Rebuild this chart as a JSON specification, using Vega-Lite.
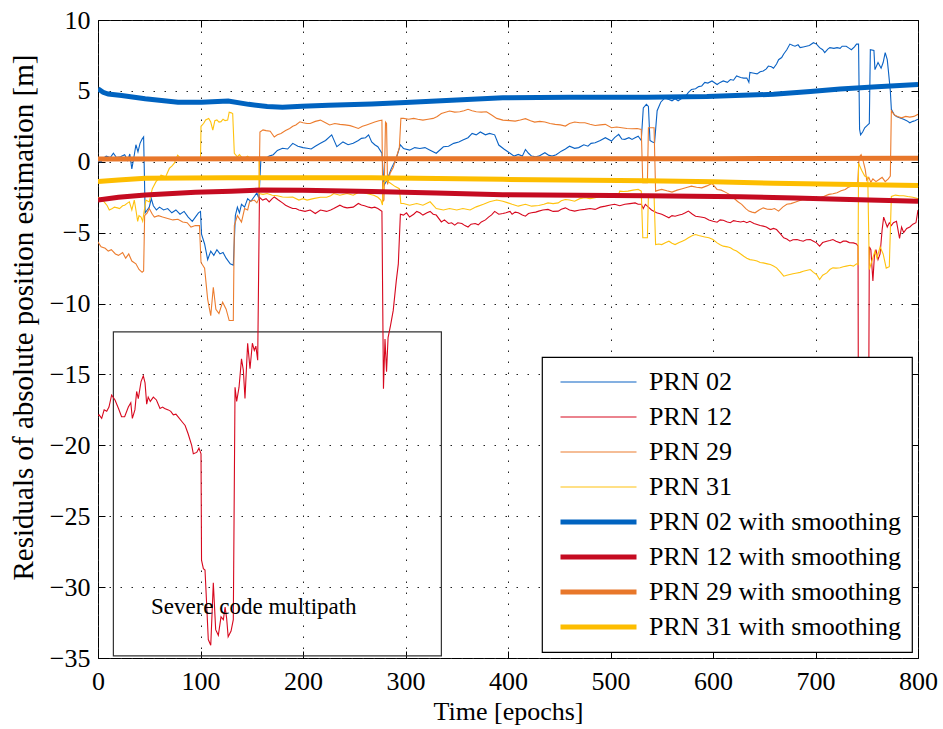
{
"$schema":"https://vega.github.io/schema/vega-lite/v6.json",
"width":820,"height":638,
"autosize":{"type":"none"},
"padding":{"left":98,"top":20,"right":25,"bottom":71},
"config":{"font":"Liberation Serif","view":{"stroke":"black","strokeWidth":1},
"style":{"guide-label":{"font":"Liberation Serif","fontSize":26,"fill":"black"},"guide-title":{"font":"Liberation Serif","fontSize":26,"fill":"black","fontWeight":"normal"}},
"axis":{"labelFont":"Liberation Serif","titleFont":"Liberation Serif","labelFontSize":26,"titleFontSize":26,"labelColor":"black","titleColor":"black","titleFontWeight":"normal","domainColor":"black","tickColor":"black","gridColor":"#222","gridDash":[1.5,9.5],"gridOpacity":1,"gridWidth":1,"labelFlush":false,"labelOverlap":false},
"legend":{"orient":"none","legendX":444,"legendY":337,"fillColor":"white","strokeColor":"black","strokeWidth":1.2,"padding":10,"labelFont":"Liberation Serif","labelFontSize":26,"labelColor":"black","symbolType":"stroke","symbolSize":5776,"clipHeight":30,"rowPadding":5,"labelOffset":10,"symbolOffset":6,"offset":0,"labelLimit":400}},
"resolve":{"axis":{"x":"independent","y":"independent"}},
"data":{"values":[
{"s":"PRN 02","t":0,"v":0.05},{"s":"PRN 02","t":3,"v":0.0},{"s":"PRN 02","t":6,"v":0.3},{"s":"PRN 02","t":8,"v":0.4},{"s":"PRN 02","t":12,"v":0.3},{"s":"PRN 02","t":15,"v":0.6},{"s":"PRN 02","t":18,"v":0.3},{"s":"PRN 02","t":22,"v":0.35},{"s":"PRN 02","t":26,"v":0.5},{"s":"PRN 02","t":29,"v":0.1},{"s":"PRN 02","t":31,"v":0.55},{"s":"PRN 02","t":33,"v":-0.5},{"s":"PRN 02","t":35,"v":0.3},{"s":"PRN 02","t":37,"v":1.2},{"s":"PRN 02","t":39,"v":0.7},{"s":"PRN 02","t":41,"v":1.3},{"s":"PRN 02","t":43,"v":1.6},{"s":"PRN 02","t":44.5,"v":1.75},{"s":"PRN 02","t":46,"v":-3.6},{"s":"PRN 02","t":48,"v":-3.4},{"s":"PRN 02","t":50,"v":-3.2},{"s":"PRN 02","t":52,"v":-2.6},{"s":"PRN 02","t":54,"v":-3.1},{"s":"PRN 02","t":57,"v":-3.4},{"s":"PRN 02","t":60,"v":-3.2},{"s":"PRN 02","t":64,"v":-3.4},{"s":"PRN 02","t":68,"v":-3.3},{"s":"PRN 02","t":72,"v":-3.6},{"s":"PRN 02","t":76,"v":-3.4},{"s":"PRN 02","t":80,"v":-3.7},{"s":"PRN 02","t":84,"v":-3.5},{"s":"PRN 02","t":88,"v":-3.9},{"s":"PRN 02","t":92,"v":-4.2},{"s":"PRN 02","t":95,"v":-3.9},{"s":"PRN 02","t":98,"v":-3.6},{"s":"PRN 02","t":100,"v":-3.5},{"s":"PRN 02","t":101,"v":-5.1},{"s":"PRN 02","t":104,"v":-5.8},{"s":"PRN 02","t":107,"v":-6.9},{"s":"PRN 02","t":110,"v":-6.3},{"s":"PRN 02","t":113,"v":-6.6},{"s":"PRN 02","t":116,"v":-6.2},{"s":"PRN 02","t":119,"v":-6.5},{"s":"PRN 02","t":122,"v":-6.4},{"s":"PRN 02","t":125,"v":-6.8},{"s":"PRN 02","t":129,"v":-7.2},{"s":"PRN 02","t":132,"v":-7.3},{"s":"PRN 02","t":134,"v":-3.8},{"s":"PRN 02","t":136,"v":-3.2},{"s":"PRN 02","t":138,"v":-3.6},{"s":"PRN 02","t":140,"v":-3.0},{"s":"PRN 02","t":143,"v":-3.2},{"s":"PRN 02","t":146,"v":-2.6},{"s":"PRN 02","t":149,"v":-2.8},{"s":"PRN 02","t":152,"v":-2.5},{"s":"PRN 02","t":155,"v":-2.2},{"s":"PRN 02","t":157,"v":-2.6},{"s":"PRN 02","t":159,"v":0.3},{"s":"PRN 02","t":163,"v":0.2},{"s":"PRN 02","t":167,"v":0.4},{"s":"PRN 02","t":171,"v":0.5},{"s":"PRN 02","t":175,"v":0.8},{"s":"PRN 02","t":180,"v":0.95},{"s":"PRN 02","t":185,"v":0.9},{"s":"PRN 02","t":190,"v":1.3},{"s":"PRN 02","t":195,"v":1.1},{"s":"PRN 02","t":200,"v":1.0},{"s":"PRN 02","t":204,"v":0.95},{"s":"PRN 02","t":208,"v":0.9},{"s":"PRN 02","t":212,"v":1.1},{"s":"PRN 02","t":217,"v":1.3},{"s":"PRN 02","t":222,"v":1.5},{"s":"PRN 02","t":228,"v":1.9},{"s":"PRN 02","t":233,"v":1.06},{"s":"PRN 02","t":239,"v":1.4},{"s":"PRN 02","t":244,"v":1.2},{"s":"PRN 02","t":249,"v":1.3},{"s":"PRN 02","t":254,"v":1.5},{"s":"PRN 02","t":257,"v":1.65},{"s":"PRN 02","t":261,"v":1.7},{"s":"PRN 02","t":264,"v":1.9},{"s":"PRN 02","t":267,"v":1.4},{"s":"PRN 02","t":270,"v":1.2},{"s":"PRN 02","t":273,"v":1.06},{"s":"PRN 02","t":277,"v":0.6},{"s":"PRN 02","t":279,"v":-1.65},{"s":"PRN 02","t":282,"v":-1.3},{"s":"PRN 02","t":286,"v":-0.5},{"s":"PRN 02","t":291,"v":0.24},{"s":"PRN 02","t":295,"v":1.2},{"s":"PRN 02","t":298,"v":0.94},{"s":"PRN 02","t":304,"v":0.82},{"s":"PRN 02","t":309,"v":1.0},{"s":"PRN 02","t":314,"v":0.94},{"s":"PRN 02","t":319,"v":1.0},{"s":"PRN 02","t":324,"v":0.82},{"s":"PRN 02","t":330,"v":0.6},{"s":"PRN 02","t":337,"v":1.06},{"s":"PRN 02","t":342,"v":1.1},{"s":"PRN 02","t":347,"v":1.3},{"s":"PRN 02","t":352,"v":1.4},{"s":"PRN 02","t":356,"v":1.53},{"s":"PRN 02","t":361,"v":1.7},{"s":"PRN 02","t":365,"v":2.0},{"s":"PRN 02","t":369,"v":1.9},{"s":"PRN 02","t":373,"v":2.1},{"s":"PRN 02","t":378,"v":1.9},{"s":"PRN 02","t":382,"v":2.0},{"s":"PRN 02","t":387,"v":1.9},{"s":"PRN 02","t":391,"v":1.18},{"s":"PRN 02","t":396,"v":0.9},{"s":"PRN 02","t":402,"v":0.6},{"s":"PRN 02","t":406,"v":0.4},{"s":"PRN 02","t":410,"v":0.52},{"s":"PRN 02","t":414,"v":0.4},{"s":"PRN 02","t":417,"v":0.87},{"s":"PRN 02","t":420,"v":0.6},{"s":"PRN 02","t":423,"v":0.4},{"s":"PRN 02","t":427,"v":0.35},{"s":"PRN 02","t":430,"v":0.4},{"s":"PRN 02","t":436,"v":0.64},{"s":"PRN 02","t":440,"v":0.45},{"s":"PRN 02","t":443,"v":0.4},{"s":"PRN 02","t":447,"v":0.5},{"s":"PRN 02","t":452,"v":0.75},{"s":"PRN 02","t":456,"v":0.9},{"s":"PRN 02","t":460,"v":1.1},{"s":"PRN 02","t":465,"v":0.95},{"s":"PRN 02","t":469,"v":1.0},{"s":"PRN 02","t":474,"v":1.2},{"s":"PRN 02","t":478,"v":1.1},{"s":"PRN 02","t":481,"v":1.3},{"s":"PRN 02","t":485,"v":1.34},{"s":"PRN 02","t":490,"v":1.5},{"s":"PRN 02","t":495,"v":1.7},{"s":"PRN 02","t":501,"v":1.46},{"s":"PRN 02","t":504,"v":1.7},{"s":"PRN 02","t":508,"v":1.93},{"s":"PRN 02","t":511,"v":1.6},{"s":"PRN 02","t":514,"v":1.58},{"s":"PRN 02","t":518,"v":1.7},{"s":"PRN 02","t":521,"v":1.58},{"s":"PRN 02","t":524,"v":1.7},{"s":"PRN 02","t":527,"v":1.8},{"s":"PRN 02","t":530,"v":1.5},{"s":"PRN 02","t":532,"v":3.8},{"s":"PRN 02","t":535,"v":4.05},{"s":"PRN 02","t":537,"v":3.9},{"s":"PRN 02","t":538.5,"v":1.5},{"s":"PRN 02","t":541,"v":1.4},{"s":"PRN 02","t":543,"v":1.34},{"s":"PRN 02","t":545.5,"v":3.6},{"s":"PRN 02","t":549,"v":4.2},{"s":"PRN 02","t":553,"v":4.5},{"s":"PRN 02","t":557,"v":4.4},{"s":"PRN 02","t":560,"v":4.3},{"s":"PRN 02","t":563,"v":4.45},{"s":"PRN 02","t":566,"v":4.3},{"s":"PRN 02","t":570,"v":4.5},{"s":"PRN 02","t":573,"v":4.6},{"s":"PRN 02","t":576,"v":4.9},{"s":"PRN 02","t":579,"v":5.1},{"s":"PRN 02","t":583,"v":5.15},{"s":"PRN 02","t":586,"v":5.3},{"s":"PRN 02","t":589,"v":5.35},{"s":"PRN 02","t":592,"v":5.6},{"s":"PRN 02","t":595,"v":5.55},{"s":"PRN 02","t":599,"v":5.7},{"s":"PRN 02","t":604,"v":5.45},{"s":"PRN 02","t":607,"v":5.6},{"s":"PRN 02","t":610,"v":5.7},{"s":"PRN 02","t":614,"v":5.6},{"s":"PRN 02","t":617,"v":5.8},{"s":"PRN 02","t":620,"v":5.75},{"s":"PRN 02","t":623,"v":6.05},{"s":"PRN 02","t":627,"v":5.95},{"s":"PRN 02","t":630,"v":5.9},{"s":"PRN 02","t":633,"v":5.9},{"s":"PRN 02","t":635,"v":5.6},{"s":"PRN 02","t":636,"v":6.3},{"s":"PRN 02","t":640,"v":6.25},{"s":"PRN 02","t":643,"v":6.2},{"s":"PRN 02","t":646,"v":6.35},{"s":"PRN 02","t":649,"v":6.4},{"s":"PRN 02","t":652,"v":6.55},{"s":"PRN 02","t":654,"v":6.75},{"s":"PRN 02","t":657,"v":6.7},{"s":"PRN 02","t":659,"v":6.6},{"s":"PRN 02","t":662,"v":6.9},{"s":"PRN 02","t":664,"v":7.2},{"s":"PRN 02","t":667,"v":7.35},{"s":"PRN 02","t":669,"v":7.6},{"s":"PRN 02","t":672,"v":7.9},{"s":"PRN 02","t":675,"v":8.3},{"s":"PRN 02","t":678,"v":8.2},{"s":"PRN 02","t":680,"v":8.15},{"s":"PRN 02","t":683,"v":8.25},{"s":"PRN 02","t":685,"v":8.05},{"s":"PRN 02","t":688,"v":8.1},{"s":"PRN 02","t":691,"v":8.15},{"s":"PRN 02","t":694,"v":8.2},{"s":"PRN 02","t":698,"v":8.4},{"s":"PRN 02","t":701,"v":8.3},{"s":"PRN 02","t":704,"v":8.05},{"s":"PRN 02","t":707,"v":7.9},{"s":"PRN 02","t":709,"v":7.7},{"s":"PRN 02","t":712,"v":7.95},{"s":"PRN 02","t":714,"v":8.05},{"s":"PRN 02","t":718,"v":8.0},{"s":"PRN 02","t":721,"v":8.05},{"s":"PRN 02","t":724,"v":8.0},{"s":"PRN 02","t":726,"v":8.15},{"s":"PRN 02","t":730,"v":8.15},{"s":"PRN 02","t":733,"v":8.0},{"s":"PRN 02","t":735,"v":7.9},{"s":"PRN 02","t":738,"v":8.1},{"s":"PRN 02","t":740,"v":8.3},{"s":"PRN 02","t":742,"v":8.3},{"s":"PRN 02","t":743,"v":2.3},{"s":"PRN 02","t":744,"v":1.9},{"s":"PRN 02","t":746,"v":2.1},{"s":"PRN 02","t":748,"v":2.4},{"s":"PRN 02","t":751,"v":2.6},{"s":"PRN 02","t":752.5,"v":2.7},{"s":"PRN 02","t":753.5,"v":7.9},{"s":"PRN 02","t":757,"v":7.85},{"s":"PRN 02","t":758,"v":6.5},{"s":"PRN 02","t":761,"v":7.0},{"s":"PRN 02","t":764,"v":6.6},{"s":"PRN 02","t":766,"v":7.0},{"s":"PRN 02","t":768,"v":7.7},{"s":"PRN 02","t":770,"v":7.2},{"s":"PRN 02","t":771,"v":6.5},{"s":"PRN 02","t":773,"v":5.0},{"s":"PRN 02","t":774,"v":3.7},{"s":"PRN 02","t":777,"v":3.3},{"s":"PRN 02","t":779,"v":3.2},{"s":"PRN 02","t":782,"v":3.1},{"s":"PRN 02","t":786,"v":3.0},{"s":"PRN 02","t":789,"v":2.9},{"s":"PRN 02","t":792,"v":2.75},{"s":"PRN 02","t":795,"v":2.85},{"s":"PRN 02","t":797,"v":2.9},{"s":"PRN 02","t":800,"v":3.0},
{"s":"PRN 12","t":0,"v":-17.9},{"s":"PRN 12","t":1,"v":-17.85},{"s":"PRN 12","t":3.6,"v":-18.1},{"s":"PRN 12","t":6,"v":-17.5},{"s":"PRN 12","t":8.5,"v":-17.6},{"s":"PRN 12","t":10.7,"v":-17.3},{"s":"PRN 12","t":13.3,"v":-16.45},{"s":"PRN 12","t":16.6,"v":-16.8},{"s":"PRN 12","t":20,"v":-17.4},{"s":"PRN 12","t":23,"v":-17.98},{"s":"PRN 12","t":26,"v":-17.98},{"s":"PRN 12","t":29.6,"v":-17.3},{"s":"PRN 12","t":32,"v":-17.0},{"s":"PRN 12","t":33.5,"v":-18.1},{"s":"PRN 12","t":36,"v":-17.5},{"s":"PRN 12","t":37.7,"v":-16.2},{"s":"PRN 12","t":39.3,"v":-16.7},{"s":"PRN 12","t":42,"v":-15.5},{"s":"PRN 12","t":44.2,"v":-15.1},{"s":"PRN 12","t":45.9,"v":-15.6},{"s":"PRN 12","t":47.5,"v":-17.1},{"s":"PRN 12","t":49,"v":-16.6},{"s":"PRN 12","t":51,"v":-16.9},{"s":"PRN 12","t":54,"v":-16.6},{"s":"PRN 12","t":57,"v":-16.8},{"s":"PRN 12","t":60.5,"v":-17.4},{"s":"PRN 12","t":63,"v":-17.3},{"s":"PRN 12","t":65,"v":-17.4},{"s":"PRN 12","t":68.6,"v":-17.5},{"s":"PRN 12","t":71,"v":-17.6},{"s":"PRN 12","t":73.5,"v":-17.85},{"s":"PRN 12","t":76,"v":-17.8},{"s":"PRN 12","t":78,"v":-17.98},{"s":"PRN 12","t":81.6,"v":-18.3},{"s":"PRN 12","t":85,"v":-18.6},{"s":"PRN 12","t":88,"v":-19.2},{"s":"PRN 12","t":91.4,"v":-20.0},{"s":"PRN 12","t":93,"v":-20.6},{"s":"PRN 12","t":96.3,"v":-20.5},{"s":"PRN 12","t":98.5,"v":-20.2},{"s":"PRN 12","t":100.5,"v":-20.6},{"s":"PRN 12","t":101,"v":-28.1},{"s":"PRN 12","t":102.8,"v":-28.7},{"s":"PRN 12","t":104.4,"v":-28.8},{"s":"PRN 12","t":106,"v":-31.2},{"s":"PRN 12","t":107.6,"v":-33.7},{"s":"PRN 12","t":110,"v":-34.1},{"s":"PRN 12","t":112.5,"v":-29.7},{"s":"PRN 12","t":114.8,"v":-33.0},{"s":"PRN 12","t":117.4,"v":-33.4},{"s":"PRN 12","t":120,"v":-32.1},{"s":"PRN 12","t":122.3,"v":-32.3},{"s":"PRN 12","t":124,"v":-31.4},{"s":"PRN 12","t":125.5,"v":-32.2},{"s":"PRN 12","t":127,"v":-33.5},{"s":"PRN 12","t":129.8,"v":-33.1},{"s":"PRN 12","t":132,"v":-32.3},{"s":"PRN 12","t":133.7,"v":-15.9},{"s":"PRN 12","t":135.3,"v":-16.9},{"s":"PRN 12","t":137.6,"v":-15.9},{"s":"PRN 12","t":140,"v":-13.9},{"s":"PRN 12","t":141.8,"v":-14.7},{"s":"PRN 12","t":143.4,"v":-16.7},{"s":"PRN 12","t":146,"v":-12.8},{"s":"PRN 12","t":148.3,"v":-14.6},{"s":"PRN 12","t":150.6,"v":-12.8},{"s":"PRN 12","t":152.5,"v":-13.3},{"s":"PRN 12","t":154,"v":-13.0},{"s":"PRN 12","t":155.8,"v":-14.0},{"s":"PRN 12","t":157.5,"v":-2.5},{"s":"PRN 12","t":160.6,"v":-2.7},{"s":"PRN 12","t":164,"v":-2.6},{"s":"PRN 12","t":167,"v":-2.83},{"s":"PRN 12","t":170,"v":-2.6},{"s":"PRN 12","t":172,"v":-2.48},{"s":"PRN 12","t":176,"v":-2.7},{"s":"PRN 12","t":180,"v":-2.9},{"s":"PRN 12","t":183,"v":-3.07},{"s":"PRN 12","t":187,"v":-3.2},{"s":"PRN 12","t":190,"v":-3.3},{"s":"PRN 12","t":193,"v":-3.3},{"s":"PRN 12","t":196,"v":-3.4},{"s":"PRN 12","t":202,"v":-3.5},{"s":"PRN 12","t":207,"v":-3.4},{"s":"PRN 12","t":212,"v":-3.65},{"s":"PRN 12","t":217,"v":-3.4},{"s":"PRN 12","t":223,"v":-3.5},{"s":"PRN 12","t":227,"v":-3.4},{"s":"PRN 12","t":230,"v":-3.3},{"s":"PRN 12","t":236,"v":-3.06},{"s":"PRN 12","t":240,"v":-3.2},{"s":"PRN 12","t":243,"v":-3.25},{"s":"PRN 12","t":249,"v":-3.2},{"s":"PRN 12","t":254,"v":-2.94},{"s":"PRN 12","t":257,"v":-3.05},{"s":"PRN 12","t":260,"v":-3.1},{"s":"PRN 12","t":264,"v":-3.2},{"s":"PRN 12","t":267,"v":-3.25},{"s":"PRN 12","t":270,"v":-3.2},{"s":"PRN 12","t":273,"v":-3.3},{"s":"PRN 12","t":277,"v":-3.5},{"s":"PRN 12","t":278.5,"v":-16.0},{"s":"PRN 12","t":280,"v":-12.5},{"s":"PRN 12","t":281.5,"v":-14.8},{"s":"PRN 12","t":283,"v":-12.4},{"s":"PRN 12","t":285.5,"v":-11.5},{"s":"PRN 12","t":288,"v":-10.5},{"s":"PRN 12","t":291,"v":-8.4},{"s":"PRN 12","t":293,"v":-7.2},{"s":"PRN 12","t":295,"v":-3.7},{"s":"PRN 12","t":298,"v":-3.76},{"s":"PRN 12","t":301,"v":-3.6},{"s":"PRN 12","t":304,"v":-3.9},{"s":"PRN 12","t":308,"v":-3.7},{"s":"PRN 12","t":311,"v":-3.5},{"s":"PRN 12","t":314,"v":-3.6},{"s":"PRN 12","t":317,"v":-3.76},{"s":"PRN 12","t":321,"v":-3.6},{"s":"PRN 12","t":324,"v":-3.5},{"s":"PRN 12","t":327,"v":-3.7},{"s":"PRN 12","t":330,"v":-3.76},{"s":"PRN 12","t":335,"v":-4.24},{"s":"PRN 12","t":338,"v":-4.1},{"s":"PRN 12","t":342,"v":-4.35},{"s":"PRN 12","t":345,"v":-4.3},{"s":"PRN 12","t":348,"v":-4.47},{"s":"PRN 12","t":351,"v":-4.3},{"s":"PRN 12","t":355,"v":-4.35},{"s":"PRN 12","t":358,"v":-4.5},{"s":"PRN 12","t":361,"v":-4.6},{"s":"PRN 12","t":364,"v":-4.4},{"s":"PRN 12","t":368,"v":-4.35},{"s":"PRN 12","t":371,"v":-4.45},{"s":"PRN 12","t":374,"v":-4.24},{"s":"PRN 12","t":378,"v":-4.1},{"s":"PRN 12","t":381,"v":-3.9},{"s":"PRN 12","t":384,"v":-3.75},{"s":"PRN 12","t":387,"v":-3.5},{"s":"PRN 12","t":391,"v":-3.7},{"s":"PRN 12","t":395,"v":-3.65},{"s":"PRN 12","t":398,"v":-3.6},{"s":"PRN 12","t":402,"v":-3.5},{"s":"PRN 12","t":404,"v":-3.7},{"s":"PRN 12","t":407,"v":-3.55},{"s":"PRN 12","t":410,"v":-3.6},{"s":"PRN 12","t":414,"v":-3.75},{"s":"PRN 12","t":417,"v":-3.84},{"s":"PRN 12","t":420,"v":-3.65},{"s":"PRN 12","t":423,"v":-3.6},{"s":"PRN 12","t":427,"v":-3.55},{"s":"PRN 12","t":430,"v":-3.48},{"s":"PRN 12","t":434,"v":-3.4},{"s":"PRN 12","t":439,"v":-3.36},{"s":"PRN 12","t":444,"v":-3.5},{"s":"PRN 12","t":449,"v":-3.48},{"s":"PRN 12","t":452,"v":-3.35},{"s":"PRN 12","t":456,"v":-3.25},{"s":"PRN 12","t":460,"v":-3.4},{"s":"PRN 12","t":465,"v":-3.48},{"s":"PRN 12","t":470,"v":-3.4},{"s":"PRN 12","t":475,"v":-3.36},{"s":"PRN 12","t":480,"v":-3.3},{"s":"PRN 12","t":485,"v":-3.36},{"s":"PRN 12","t":490,"v":-3.2},{"s":"PRN 12","t":495,"v":-3.13},{"s":"PRN 12","t":500,"v":-3.05},{"s":"PRN 12","t":504,"v":-3.0},{"s":"PRN 12","t":509,"v":-3.1},{"s":"PRN 12","t":514,"v":-3.0},{"s":"PRN 12","t":519,"v":-2.95},{"s":"PRN 12","t":524,"v":-2.9},{"s":"PRN 12","t":527,"v":-3.0},{"s":"PRN 12","t":530,"v":-3.0},{"s":"PRN 12","t":532,"v":-3.3},{"s":"PRN 12","t":534,"v":-3.0},{"s":"PRN 12","t":537,"v":-3.2},{"s":"PRN 12","t":540,"v":-3.4},{"s":"PRN 12","t":545,"v":-3.6},{"s":"PRN 12","t":550,"v":-3.7},{"s":"PRN 12","t":554,"v":-3.85},{"s":"PRN 12","t":557,"v":-3.95},{"s":"PRN 12","t":560,"v":-3.8},{"s":"PRN 12","t":563,"v":-3.84},{"s":"PRN 12","t":567,"v":-3.75},{"s":"PRN 12","t":570,"v":-3.7},{"s":"PRN 12","t":573,"v":-3.6},{"s":"PRN 12","t":576,"v":-3.48},{"s":"PRN 12","t":580,"v":-3.7},{"s":"PRN 12","t":583,"v":-3.84},{"s":"PRN 12","t":588,"v":-3.9},{"s":"PRN 12","t":592,"v":-3.95},{"s":"PRN 12","t":596,"v":-4.1},{"s":"PRN 12","t":600,"v":-4.2},{"s":"PRN 12","t":604,"v":-4.26},{"s":"PRN 12","t":607,"v":-4.1},{"s":"PRN 12","t":610,"v":-4.12},{"s":"PRN 12","t":614,"v":-4.25},{"s":"PRN 12","t":617,"v":-4.3},{"s":"PRN 12","t":620,"v":-4.15},{"s":"PRN 12","t":623,"v":-4.2},{"s":"PRN 12","t":627,"v":-4.25},{"s":"PRN 12","t":630,"v":-4.2},{"s":"PRN 12","t":633,"v":-4.3},{"s":"PRN 12","t":636,"v":-4.2},{"s":"PRN 12","t":640,"v":-4.35},{"s":"PRN 12","t":643,"v":-4.42},{"s":"PRN 12","t":646,"v":-4.5},{"s":"PRN 12","t":649,"v":-4.54},{"s":"PRN 12","t":652,"v":-4.6},{"s":"PRN 12","t":656,"v":-4.78},{"s":"PRN 12","t":659,"v":-4.7},{"s":"PRN 12","t":662,"v":-4.78},{"s":"PRN 12","t":666,"v":-5.1},{"s":"PRN 12","t":669,"v":-5.36},{"s":"PRN 12","t":672,"v":-5.45},{"s":"PRN 12","t":675,"v":-5.6},{"s":"PRN 12","t":678,"v":-5.5},{"s":"PRN 12","t":682,"v":-5.48},{"s":"PRN 12","t":685,"v":-5.55},{"s":"PRN 12","t":688,"v":-5.6},{"s":"PRN 12","t":691,"v":-5.5},{"s":"PRN 12","t":695,"v":-5.48},{"s":"PRN 12","t":698,"v":-5.6},{"s":"PRN 12","t":701,"v":-5.72},{"s":"PRN 12","t":704,"v":-5.95},{"s":"PRN 12","t":707,"v":-5.7},{"s":"PRN 12","t":711,"v":-5.6},{"s":"PRN 12","t":714,"v":-5.55},{"s":"PRN 12","t":717,"v":-5.48},{"s":"PRN 12","t":720,"v":-5.6},{"s":"PRN 12","t":724,"v":-5.72},{"s":"PRN 12","t":727,"v":-5.6},{"s":"PRN 12","t":730,"v":-5.6},{"s":"PRN 12","t":733,"v":-5.7},{"s":"PRN 12","t":737,"v":-5.72},{"s":"PRN 12","t":740,"v":-5.8},{"s":"PRN 12","t":741.5,"v":-5.95},{"s":"PRN 12","t":742,"v":-25},{"s":"PRN 12","t":746,"v":-25},{"s":"PRN 12","t":751.5,"v":-25},{"s":"PRN 12","t":752.5,"v":-6.0},{"s":"PRN 12","t":754,"v":-6.2},{"s":"PRN 12","t":756,"v":-8.4},{"s":"PRN 12","t":757.5,"v":-6.6},{"s":"PRN 12","t":759,"v":-6.2},{"s":"PRN 12","t":761,"v":-6.9},{"s":"PRN 12","t":763,"v":-6.5},{"s":"PRN 12","t":765,"v":-4.8},{"s":"PRN 12","t":766.5,"v":-3.9},{"s":"PRN 12","t":768,"v":-4.2},{"s":"PRN 12","t":770,"v":-4.6},{"s":"PRN 12","t":772,"v":-4.3},{"s":"PRN 12","t":774,"v":-4.5},{"s":"PRN 12","t":776,"v":-4.3},{"s":"PRN 12","t":779,"v":-4.2},{"s":"PRN 12","t":782,"v":-5.4},{"s":"PRN 12","t":784,"v":-4.6},{"s":"PRN 12","t":786,"v":-5.0},{"s":"PRN 12","t":789,"v":-4.7},{"s":"PRN 12","t":792,"v":-4.6},{"s":"PRN 12","t":795,"v":-4.4},{"s":"PRN 12","t":798,"v":-4.3},{"s":"PRN 12","t":800,"v":-3.4},
{"s":"PRN 29","t":0,"v":-5.66},{"s":"PRN 29","t":3,"v":-6.0},{"s":"PRN 29","t":7,"v":-6.1},{"s":"PRN 29","t":10,"v":-6.3},{"s":"PRN 29","t":13,"v":-6.2},{"s":"PRN 29","t":17,"v":-6.5},{"s":"PRN 29","t":20,"v":-6.6},{"s":"PRN 29","t":24,"v":-6.4},{"s":"PRN 29","t":27,"v":-6.8},{"s":"PRN 29","t":30,"v":-6.5},{"s":"PRN 29","t":33,"v":-7.0},{"s":"PRN 29","t":37,"v":-7.2},{"s":"PRN 29","t":40,"v":-7.6},{"s":"PRN 29","t":43,"v":-7.8},{"s":"PRN 29","t":44.5,"v":-7.7},{"s":"PRN 29","t":45.5,"v":-3.8},{"s":"PRN 29","t":48,"v":-3.6},{"s":"PRN 29","t":50,"v":-3.3},{"s":"PRN 29","t":53,"v":-3.7},{"s":"PRN 29","t":55,"v":-3.9},{"s":"PRN 29","t":59,"v":-3.8},{"s":"PRN 29","t":63,"v":-3.9},{"s":"PRN 29","t":68,"v":-4.0},{"s":"PRN 29","t":73,"v":-4.1},{"s":"PRN 29","t":78,"v":-4.05},{"s":"PRN 29","t":82.6,"v":-4.25},{"s":"PRN 29","t":87,"v":-4.3},{"s":"PRN 29","t":90.7,"v":-4.6},{"s":"PRN 29","t":95,"v":-4.5},{"s":"PRN 29","t":99,"v":-4.5},{"s":"PRN 29","t":100.5,"v":-7.1},{"s":"PRN 29","t":104,"v":-7.5},{"s":"PRN 29","t":107,"v":-9.7},{"s":"PRN 29","t":110,"v":-10.85},{"s":"PRN 29","t":112.5,"v":-8.85},{"s":"PRN 29","t":115,"v":-10.4},{"s":"PRN 29","t":118,"v":-10.7},{"s":"PRN 29","t":121.6,"v":-9.9},{"s":"PRN 29","t":125,"v":-10.4},{"s":"PRN 29","t":128,"v":-11.2},{"s":"PRN 29","t":132,"v":-11.2},{"s":"PRN 29","t":133,"v":-4.5},{"s":"PRN 29","t":136,"v":-3.8},{"s":"PRN 29","t":140,"v":-4.25},{"s":"PRN 29","t":143,"v":-3.3},{"s":"PRN 29","t":146,"v":-3.4},{"s":"PRN 29","t":148,"v":-2.8},{"s":"PRN 29","t":152.5,"v":-2.7},{"s":"PRN 29","t":155,"v":-2.9},{"s":"PRN 29","t":157,"v":-2.6},{"s":"PRN 29","t":158,"v":2.1},{"s":"PRN 29","t":161,"v":2.25},{"s":"PRN 29","t":164,"v":2.2},{"s":"PRN 29","t":168,"v":2.15},{"s":"PRN 29","t":172,"v":1.75},{"s":"PRN 29","t":175,"v":1.9},{"s":"PRN 29","t":178.5,"v":2.0},{"s":"PRN 29","t":183,"v":2.2},{"s":"PRN 29","t":187,"v":2.35},{"s":"PRN 29","t":190,"v":2.5},{"s":"PRN 29","t":193,"v":2.6},{"s":"PRN 29","t":197,"v":2.82},{"s":"PRN 29","t":200,"v":2.75},{"s":"PRN 29","t":204,"v":2.7},{"s":"PRN 29","t":207,"v":2.7},{"s":"PRN 29","t":212,"v":2.85},{"s":"PRN 29","t":217,"v":2.94},{"s":"PRN 29","t":222,"v":2.75},{"s":"PRN 29","t":226,"v":2.6},{"s":"PRN 29","t":231,"v":2.7},{"s":"PRN 29","t":236,"v":2.64},{"s":"PRN 29","t":241,"v":2.6},{"s":"PRN 29","t":246,"v":2.55},{"s":"PRN 29","t":250,"v":2.45},{"s":"PRN 29","t":254,"v":2.35},{"s":"PRN 29","t":258,"v":2.5},{"s":"PRN 29","t":262,"v":2.6},{"s":"PRN 29","t":266,"v":2.7},{"s":"PRN 29","t":270,"v":2.8},{"s":"PRN 29","t":274,"v":2.9},{"s":"PRN 29","t":277,"v":2.94},{"s":"PRN 29","t":277.8,"v":-2.8},{"s":"PRN 29","t":279,"v":-2.7},{"s":"PRN 29","t":280.5,"v":2.8},{"s":"PRN 29","t":281.5,"v":2.7},{"s":"PRN 29","t":282.5,"v":-1.6},{"s":"PRN 29","t":285,"v":-0.8},{"s":"PRN 29","t":288,"v":-0.4},{"s":"PRN 29","t":291,"v":0.3},{"s":"PRN 29","t":294,"v":1.0},{"s":"PRN 29","t":295.5,"v":3.06},{"s":"PRN 29","t":298,"v":3.06},{"s":"PRN 29","t":303,"v":3.0},{"s":"PRN 29","t":308,"v":3.06},{"s":"PRN 29","t":312,"v":3.0},{"s":"PRN 29","t":317,"v":2.94},{"s":"PRN 29","t":322,"v":3.0},{"s":"PRN 29","t":327,"v":3.06},{"s":"PRN 29","t":331,"v":3.2},{"s":"PRN 29","t":335,"v":3.4},{"s":"PRN 29","t":339,"v":3.5},{"s":"PRN 29","t":343,"v":3.58},{"s":"PRN 29","t":348,"v":3.5},{"s":"PRN 29","t":353,"v":3.53},{"s":"PRN 29","t":357,"v":3.6},{"s":"PRN 29","t":361,"v":3.7},{"s":"PRN 29","t":365,"v":3.6},{"s":"PRN 29","t":369,"v":3.53},{"s":"PRN 29","t":374,"v":3.5},{"s":"PRN 29","t":379,"v":3.53},{"s":"PRN 29","t":384,"v":3.3},{"s":"PRN 29","t":389,"v":3.06},{"s":"PRN 29","t":395,"v":2.94},{"s":"PRN 29","t":402,"v":2.9},{"s":"PRN 29","t":407,"v":2.87},{"s":"PRN 29","t":412,"v":2.95},{"s":"PRN 29","t":417,"v":3.04},{"s":"PRN 29","t":422,"v":2.9},{"s":"PRN 29","t":426,"v":2.8},{"s":"PRN 29","t":431,"v":2.85},{"s":"PRN 29","t":436,"v":2.8},{"s":"PRN 29","t":441,"v":2.7},{"s":"PRN 29","t":446,"v":2.64},{"s":"PRN 29","t":451,"v":2.6},{"s":"PRN 29","t":456,"v":2.52},{"s":"PRN 29","t":460,"v":2.7},{"s":"PRN 29","t":465,"v":2.8},{"s":"PRN 29","t":470,"v":2.75},{"s":"PRN 29","t":475,"v":2.75},{"s":"PRN 29","t":480,"v":2.65},{"s":"PRN 29","t":485,"v":2.56},{"s":"PRN 29","t":490,"v":2.6},{"s":"PRN 29","t":495,"v":2.64},{"s":"PRN 29","t":501,"v":2.4},{"s":"PRN 29","t":506,"v":2.45},{"s":"PRN 29","t":511,"v":2.4},{"s":"PRN 29","t":516,"v":2.35},{"s":"PRN 29","t":521,"v":2.33},{"s":"PRN 29","t":526,"v":2.35},{"s":"PRN 29","t":530,"v":2.28},{"s":"PRN 29","t":531.5,"v":-1.48},{"s":"PRN 29","t":536,"v":-1.48},{"s":"PRN 29","t":537,"v":2.4},{"s":"PRN 29","t":542.5,"v":2.4},{"s":"PRN 29","t":544,"v":-2.07},{"s":"PRN 29","t":547,"v":-2.0},{"s":"PRN 29","t":550,"v":-1.95},{"s":"PRN 29","t":555,"v":-2.05},{"s":"PRN 29","t":560,"v":-2.14},{"s":"PRN 29","t":565,"v":-2.0},{"s":"PRN 29","t":570,"v":-1.9},{"s":"PRN 29","t":575,"v":-1.8},{"s":"PRN 29","t":579,"v":-1.72},{"s":"PRN 29","t":584,"v":-1.8},{"s":"PRN 29","t":589,"v":-1.84},{"s":"PRN 29","t":594,"v":-1.7},{"s":"PRN 29","t":599,"v":-1.53},{"s":"PRN 29","t":604,"v":-1.95},{"s":"PRN 29","t":608,"v":-2.0},{"s":"PRN 29","t":612,"v":-2.14},{"s":"PRN 29","t":616,"v":-2.3},{"s":"PRN 29","t":620,"v":-2.54},{"s":"PRN 29","t":624,"v":-2.8},{"s":"PRN 29","t":628,"v":-3.0},{"s":"PRN 29","t":632,"v":-3.3},{"s":"PRN 29","t":635,"v":-3.48},{"s":"PRN 29","t":638,"v":-3.55},{"s":"PRN 29","t":641,"v":-3.6},{"s":"PRN 29","t":645,"v":-3.4},{"s":"PRN 29","t":649,"v":-3.25},{"s":"PRN 29","t":653,"v":-3.35},{"s":"PRN 29","t":657,"v":-3.36},{"s":"PRN 29","t":660,"v":-3.3},{"s":"PRN 29","t":664,"v":-3.48},{"s":"PRN 29","t":668,"v":-3.2},{"s":"PRN 29","t":672,"v":-3.0},{"s":"PRN 29","t":676,"v":-2.95},{"s":"PRN 29","t":680,"v":-2.85},{"s":"PRN 29","t":684,"v":-2.75},{"s":"PRN 29","t":688,"v":-2.66},{"s":"PRN 29","t":692,"v":-2.7},{"s":"PRN 29","t":696,"v":-2.66},{"s":"PRN 29","t":700,"v":-2.6},{"s":"PRN 29","t":704,"v":-2.54},{"s":"PRN 29","t":708,"v":-2.45},{"s":"PRN 29","t":713,"v":-2.3},{"s":"PRN 29","t":717,"v":-2.25},{"s":"PRN 29","t":721,"v":-2.19},{"s":"PRN 29","t":725,"v":-2.05},{"s":"PRN 29","t":729,"v":-1.95},{"s":"PRN 29","t":732,"v":-1.8},{"s":"PRN 29","t":735,"v":-1.72},{"s":"PRN 29","t":738,"v":-1.65},{"s":"PRN 29","t":741,"v":-1.72},{"s":"PRN 29","t":742.5,"v":0.3},{"s":"PRN 29","t":744.5,"v":0.5},{"s":"PRN 29","t":746,"v":0.2},{"s":"PRN 29","t":748.5,"v":-0.54},{"s":"PRN 29","t":750,"v":-1.3},{"s":"PRN 29","t":752,"v":-1.1},{"s":"PRN 29","t":754,"v":-1.45},{"s":"PRN 29","t":756,"v":-1.2},{"s":"PRN 29","t":759,"v":-1.4},{"s":"PRN 29","t":762,"v":-1.25},{"s":"PRN 29","t":765,"v":-1.1},{"s":"PRN 29","t":768,"v":-1.4},{"s":"PRN 29","t":771,"v":-1.2},{"s":"PRN 29","t":773,"v":-1.0},{"s":"PRN 29","t":774,"v":3.6},{"s":"PRN 29","t":777,"v":3.3},{"s":"PRN 29","t":780,"v":3.2},{"s":"PRN 29","t":784,"v":3.1},{"s":"PRN 29","t":788,"v":3.2},{"s":"PRN 29","t":792,"v":3.15},{"s":"PRN 29","t":796,"v":3.2},{"s":"PRN 29","t":800,"v":3.35},
{"s":"PRN 31","t":0,"v":-2.5},{"s":"PRN 31","t":3,"v":-2.6},{"s":"PRN 31","t":6,"v":-2.83},{"s":"PRN 31","t":9,"v":-3.1},{"s":"PRN 31","t":11,"v":-3.4},{"s":"PRN 31","t":14,"v":-3.3},{"s":"PRN 31","t":16,"v":-3.2},{"s":"PRN 31","t":19,"v":-3.25},{"s":"PRN 31","t":21,"v":-3.3},{"s":"PRN 31","t":24,"v":-3.1},{"s":"PRN 31","t":26,"v":-3.06},{"s":"PRN 31","t":29,"v":-2.9},{"s":"PRN 31","t":30.6,"v":-2.83},{"s":"PRN 31","t":33,"v":-3.4},{"s":"PRN 31","t":35.4,"v":-2.7},{"s":"PRN 31","t":37,"v":-3.4},{"s":"PRN 31","t":38.7,"v":-4.2},{"s":"PRN 31","t":40,"v":-3.8},{"s":"PRN 31","t":42,"v":-3.9},{"s":"PRN 31","t":43.6,"v":-4.2},{"s":"PRN 31","t":45,"v":-3.5},{"s":"PRN 31","t":46.8,"v":-2.7},{"s":"PRN 31","t":50,"v":-2.83},{"s":"PRN 31","t":53,"v":-1.9},{"s":"PRN 31","t":56.6,"v":-1.4},{"s":"PRN 31","t":59,"v":-1.2},{"s":"PRN 31","t":61.5,"v":-0.94},{"s":"PRN 31","t":64,"v":-1.0},{"s":"PRN 31","t":66,"v":-1.06},{"s":"PRN 31","t":69.6,"v":-0.47},{"s":"PRN 31","t":72,"v":-0.3},{"s":"PRN 31","t":74.5,"v":-0.1},{"s":"PRN 31","t":77.7,"v":0.47},{"s":"PRN 31","t":80,"v":0.3},{"s":"PRN 31","t":85,"v":0.2},{"s":"PRN 31","t":90,"v":0.25},{"s":"PRN 31","t":95,"v":0.2},{"s":"PRN 31","t":100,"v":0.2},{"s":"PRN 31","t":100.5,"v":2.5},{"s":"PRN 31","t":103,"v":2.7},{"s":"PRN 31","t":105,"v":2.95},{"s":"PRN 31","t":108,"v":3.06},{"s":"PRN 31","t":110,"v":2.8},{"s":"PRN 31","t":112,"v":2.24},{"s":"PRN 31","t":114,"v":2.9},{"s":"PRN 31","t":116,"v":2.95},{"s":"PRN 31","t":118,"v":2.8},{"s":"PRN 31","t":120,"v":2.83},{"s":"PRN 31","t":122,"v":3.0},{"s":"PRN 31","t":124,"v":2.9},{"s":"PRN 31","t":126.5,"v":2.94},{"s":"PRN 31","t":128,"v":3.5},{"s":"PRN 31","t":130,"v":3.45},{"s":"PRN 31","t":131.4,"v":3.4},{"s":"PRN 31","t":133,"v":0.6},{"s":"PRN 31","t":136,"v":0.35},{"s":"PRN 31","t":138,"v":0.5},{"s":"PRN 31","t":141,"v":0.24},{"s":"PRN 31","t":144,"v":0.3},{"s":"PRN 31","t":146,"v":0.4},{"s":"PRN 31","t":148,"v":0.28},{"s":"PRN 31","t":152,"v":0.3},{"s":"PRN 31","t":155,"v":0.25},{"s":"PRN 31","t":157,"v":0.24},{"s":"PRN 31","t":157.5,"v":-2.24},{"s":"PRN 31","t":161,"v":-2.3},{"s":"PRN 31","t":165,"v":-2.24},{"s":"PRN 31","t":170,"v":-2.36},{"s":"PRN 31","t":175,"v":-2.4},{"s":"PRN 31","t":180,"v":-2.48},{"s":"PRN 31","t":185,"v":-2.5},{"s":"PRN 31","t":190,"v":-2.48},{"s":"PRN 31","t":196,"v":-2.7},{"s":"PRN 31","t":200,"v":-2.6},{"s":"PRN 31","t":204,"v":-2.7},{"s":"PRN 31","t":210,"v":-2.6},{"s":"PRN 31","t":217,"v":-2.5},{"s":"PRN 31","t":223,"v":-2.5},{"s":"PRN 31","t":227,"v":-2.4},{"s":"PRN 31","t":230,"v":-2.24},{"s":"PRN 31","t":236,"v":-2.36},{"s":"PRN 31","t":243,"v":-2.24},{"s":"PRN 31","t":249,"v":-2.36},{"s":"PRN 31","t":253,"v":-2.2},{"s":"PRN 31","t":256,"v":-2.1},{"s":"PRN 31","t":262,"v":-2.24},{"s":"PRN 31","t":269,"v":-2.36},{"s":"PRN 31","t":273,"v":-2.5},{"s":"PRN 31","t":276,"v":-2.7},{"s":"PRN 31","t":277.5,"v":-3.05},{"s":"PRN 31","t":278.5,"v":-1.5},{"s":"PRN 31","t":281,"v":-1.3},{"s":"PRN 31","t":285,"v":-1.5},{"s":"PRN 31","t":290,"v":-1.75},{"s":"PRN 31","t":294,"v":-1.9},{"s":"PRN 31","t":295.5,"v":-2.94},{"s":"PRN 31","t":298,"v":-2.94},{"s":"PRN 31","t":304,"v":-3.06},{"s":"PRN 31","t":311,"v":-2.94},{"s":"PRN 31","t":317,"v":-3.06},{"s":"PRN 31","t":324,"v":-2.82},{"s":"PRN 31","t":330,"v":-3.3},{"s":"PRN 31","t":337,"v":-3.4},{"s":"PRN 31","t":343,"v":-3.3},{"s":"PRN 31","t":350,"v":-3.4},{"s":"PRN 31","t":356,"v":-3.3},{"s":"PRN 31","t":363,"v":-3.4},{"s":"PRN 31","t":369,"v":-3.18},{"s":"PRN 31","t":376,"v":-3.0},{"s":"PRN 31","t":382,"v":-2.82},{"s":"PRN 31","t":389,"v":-2.7},{"s":"PRN 31","t":395,"v":-2.78},{"s":"PRN 31","t":400,"v":-2.9},{"s":"PRN 31","t":404,"v":-3.0},{"s":"PRN 31","t":410,"v":-3.13},{"s":"PRN 31","t":417,"v":-3.0},{"s":"PRN 31","t":423,"v":-3.13},{"s":"PRN 31","t":430,"v":-3.08},{"s":"PRN 31","t":435,"v":-3.0},{"s":"PRN 31","t":439,"v":-2.9},{"s":"PRN 31","t":444,"v":-2.95},{"s":"PRN 31","t":449,"v":-2.9},{"s":"PRN 31","t":452,"v":-2.75},{"s":"PRN 31","t":456,"v":-2.66},{"s":"PRN 31","t":460,"v":-2.7},{"s":"PRN 31","t":465,"v":-2.78},{"s":"PRN 31","t":470,"v":-2.6},{"s":"PRN 31","t":475,"v":-2.54},{"s":"PRN 31","t":480,"v":-2.6},{"s":"PRN 31","t":485,"v":-2.54},{"s":"PRN 31","t":490,"v":-2.45},{"s":"PRN 31","t":495,"v":-2.42},{"s":"PRN 31","t":500,"v":-2.35},{"s":"PRN 31","t":504,"v":-2.3},{"s":"PRN 31","t":508,"v":-2.3},{"s":"PRN 31","t":509,"v":-2.07},{"s":"PRN 31","t":513,"v":-2.1},{"s":"PRN 31","t":517,"v":-2.07},{"s":"PRN 31","t":522,"v":-2.0},{"s":"PRN 31","t":527,"v":-1.95},{"s":"PRN 31","t":530,"v":-2.07},{"s":"PRN 31","t":531.5,"v":-5.36},{"s":"PRN 31","t":536,"v":-5.36},{"s":"PRN 31","t":537,"v":-2.3},{"s":"PRN 31","t":542.5,"v":-2.4},{"s":"PRN 31","t":544,"v":-5.84},{"s":"PRN 31","t":547,"v":-5.8},{"s":"PRN 31","t":550,"v":-5.84},{"s":"PRN 31","t":554,"v":-5.7},{"s":"PRN 31","t":557,"v":-5.6},{"s":"PRN 31","t":560,"v":-5.75},{"s":"PRN 31","t":563,"v":-5.84},{"s":"PRN 31","t":567,"v":-5.7},{"s":"PRN 31","t":570,"v":-5.6},{"s":"PRN 31","t":573,"v":-5.5},{"s":"PRN 31","t":576,"v":-5.36},{"s":"PRN 31","t":580,"v":-5.2},{"s":"PRN 31","t":583,"v":-5.13},{"s":"PRN 31","t":586,"v":-5.2},{"s":"PRN 31","t":589,"v":-5.25},{"s":"PRN 31","t":592,"v":-5.3},{"s":"PRN 31","t":596,"v":-5.36},{"s":"PRN 31","t":600,"v":-5.48},{"s":"PRN 31","t":604,"v":-5.72},{"s":"PRN 31","t":607,"v":-5.85},{"s":"PRN 31","t":610,"v":-5.95},{"s":"PRN 31","t":614,"v":-6.0},{"s":"PRN 31","t":617,"v":-6.07},{"s":"PRN 31","t":620,"v":-6.2},{"s":"PRN 31","t":623,"v":-6.3},{"s":"PRN 31","t":627,"v":-6.5},{"s":"PRN 31","t":630,"v":-6.66},{"s":"PRN 31","t":633,"v":-6.8},{"s":"PRN 31","t":636,"v":-6.9},{"s":"PRN 31","t":640,"v":-6.95},{"s":"PRN 31","t":643,"v":-7.0},{"s":"PRN 31","t":646,"v":-7.1},{"s":"PRN 31","t":649,"v":-7.13},{"s":"PRN 31","t":653,"v":-7.2},{"s":"PRN 31","t":656,"v":-7.25},{"s":"PRN 31","t":659,"v":-7.35},{"s":"PRN 31","t":662,"v":-7.48},{"s":"PRN 31","t":666,"v":-7.8},{"s":"PRN 31","t":669,"v":-8.07},{"s":"PRN 31","t":672,"v":-8.0},{"s":"PRN 31","t":675,"v":-7.95},{"s":"PRN 31","t":678,"v":-7.9},{"s":"PRN 31","t":682,"v":-7.84},{"s":"PRN 31","t":685,"v":-7.8},{"s":"PRN 31","t":688,"v":-7.72},{"s":"PRN 31","t":692,"v":-7.65},{"s":"PRN 31","t":695,"v":-7.6},{"s":"PRN 31","t":698,"v":-7.8},{"s":"PRN 31","t":701,"v":-7.95},{"s":"PRN 31","t":704,"v":-8.3},{"s":"PRN 31","t":707,"v":-8.0},{"s":"PRN 31","t":711,"v":-7.84},{"s":"PRN 31","t":714,"v":-7.6},{"s":"PRN 31","t":717,"v":-7.48},{"s":"PRN 31","t":720,"v":-7.5},{"s":"PRN 31","t":724,"v":-7.48},{"s":"PRN 31","t":727,"v":-7.4},{"s":"PRN 31","t":730,"v":-7.36},{"s":"PRN 31","t":734,"v":-7.3},{"s":"PRN 31","t":737,"v":-7.36},{"s":"PRN 31","t":740,"v":-7.2},{"s":"PRN 31","t":741.5,"v":-7.25},{"s":"PRN 31","t":742,"v":-0.1},{"s":"PRN 31","t":745,"v":-0.6},{"s":"PRN 31","t":748,"v":-1.0},{"s":"PRN 31","t":751,"v":-1.1},{"s":"PRN 31","t":752.5,"v":-7.6},{"s":"PRN 31","t":755,"v":-7.0},{"s":"PRN 31","t":758,"v":-6.3},{"s":"PRN 31","t":760,"v":-6.8},{"s":"PRN 31","t":763,"v":-6.0},{"s":"PRN 31","t":766,"v":-6.5},{"s":"PRN 31","t":769,"v":-7.5},{"s":"PRN 31","t":772,"v":-7.4},{"s":"PRN 31","t":774,"v":-2.45},{"s":"PRN 31","t":778,"v":-2.35},{"s":"PRN 31","t":782,"v":-2.4},{"s":"PRN 31","t":786,"v":-2.4},{"s":"PRN 31","t":790,"v":-2.45},{"s":"PRN 31","t":795,"v":-2.5},{"s":"PRN 31","t":800,"v":-2.6},
{"s":"PRN 02 with smoothing","t":0,"v":5.15},{"s":"PRN 02 with smoothing","t":5,"v":4.9},{"s":"PRN 02 with smoothing","t":10,"v":4.78},{"s":"PRN 02 with smoothing","t":23,"v":4.68},{"s":"PRN 02 with smoothing","t":46,"v":4.45},{"s":"PRN 02 with smoothing","t":78,"v":4.2},{"s":"PRN 02 with smoothing","t":101,"v":4.2},{"s":"PRN 02 with smoothing","t":127,"v":4.28},{"s":"PRN 02 with smoothing","t":147,"v":4.05},{"s":"PRN 02 with smoothing","t":165,"v":3.9},{"s":"PRN 02 with smoothing","t":180,"v":3.85},{"s":"PRN 02 with smoothing","t":199,"v":3.92},{"s":"PRN 02 with smoothing","t":225,"v":3.98},{"s":"PRN 02 with smoothing","t":267,"v":4.08},{"s":"PRN 02 with smoothing","t":300,"v":4.18},{"s":"PRN 02 with smoothing","t":330,"v":4.29},{"s":"PRN 02 with smoothing","t":360,"v":4.4},{"s":"PRN 02 with smoothing","t":395,"v":4.52},{"s":"PRN 02 with smoothing","t":460,"v":4.55},{"s":"PRN 02 with smoothing","t":535,"v":4.55},{"s":"PRN 02 with smoothing","t":594,"v":4.6},{"s":"PRN 02 with smoothing","t":659,"v":4.76},{"s":"PRN 02 with smoothing","t":695,"v":4.95},{"s":"PRN 02 with smoothing","t":724,"v":5.13},{"s":"PRN 02 with smoothing","t":760,"v":5.3},{"s":"PRN 02 with smoothing","t":800,"v":5.45},
{"s":"PRN 12 with smoothing","t":0,"v":-2.69},{"s":"PRN 12 with smoothing","t":20,"v":-2.5},{"s":"PRN 12 with smoothing","t":46,"v":-2.34},{"s":"PRN 12 with smoothing","t":95,"v":-2.15},{"s":"PRN 12 with smoothing","t":130,"v":-2.08},{"s":"PRN 12 with smoothing","t":160,"v":-1.99},{"s":"PRN 12 with smoothing","t":200,"v":-2.0},{"s":"PRN 12 with smoothing","t":267,"v":-2.1},{"s":"PRN 12 with smoothing","t":330,"v":-2.2},{"s":"PRN 12 with smoothing","t":395,"v":-2.32},{"s":"PRN 12 with smoothing","t":535,"v":-2.4},{"s":"PRN 12 with smoothing","t":626,"v":-2.46},{"s":"PRN 12 with smoothing","t":680,"v":-2.55},{"s":"PRN 12 with smoothing","t":724,"v":-2.65},{"s":"PRN 12 with smoothing","t":800,"v":-2.78},
{"s":"PRN 29 with smoothing","t":0,"v":0.2},{"s":"PRN 29 with smoothing","t":200,"v":0.22},{"s":"PRN 29 with smoothing","t":400,"v":0.22},{"s":"PRN 29 with smoothing","t":600,"v":0.22},{"s":"PRN 29 with smoothing","t":800,"v":0.25},
{"s":"PRN 31 with smoothing","t":0,"v":-1.4},{"s":"PRN 31 with smoothing","t":20,"v":-1.28},{"s":"PRN 31 with smoothing","t":46,"v":-1.17},{"s":"PRN 31 with smoothing","t":127,"v":-1.12},{"s":"PRN 31 with smoothing","t":267,"v":-1.12},{"s":"PRN 31 with smoothing","t":395,"v":-1.24},{"s":"PRN 31 with smoothing","t":535,"v":-1.33},{"s":"PRN 31 with smoothing","t":600,"v":-1.4},{"s":"PRN 31 with smoothing","t":659,"v":-1.52},{"s":"PRN 31 with smoothing","t":800,"v":-1.68}
]},
"layer":[
{"data":{"values":[{"a":15,"b":335,"c":-12.0,"d":-34.85}]},
 "mark":{"type":"rect","fillOpacity":0,"stroke":"#333","strokeWidth":1.2},
 "encoding":{"x":{"field":"a","type":"quantitative","scale":{"domain":[0,800],"nice":false,"zero":false},"axis":null},"x2":{"field":"b"},
  "y":{"field":"c","type":"quantitative","scale":{"domain":[-35,10],"nice":false,"zero":false},"axis":null},"y2":{"field":"d"}}},
{"transform":[{"filter":"indexof(datum.s,'smoothing')<0"}],
 "mark":{"type":"line","clip":true},
 "encoding":{
  "x":{"field":"t","type":"quantitative","scale":{"domain":[0,800],"nice":false,"zero":false},"axis":{"orient":"bottom","title":"Time [epochs]","values":[0,100,200,300,400,500,600,700,800],"grid":true,"tickSize":-7,"labelPadding":17,"domain":false,"titleY":61,"titleBaseline":"alphabetic","labelFont":"Liberation Serif","titleFont":"Liberation Serif","labelFontSize":26,"titleFontSize":26,"titleFontWeight":"normal"}},
  "y":{"field":"v","type":"quantitative","scale":{"domain":[-35,10],"nice":false,"zero":false},"axis":{"orient":"left","title":"Residuals of absolute position estimation [m]","values":[-35,-30,-25,-20,-15,-10,-5,0,5,10],"grid":true,"tickSize":-7,"labelPadding":15,"domain":false,"titleX":-66,"titleY":297,"titleAngle":270,"titleBaseline":"alphabetic","titleAlign":"center","labelFont":"Liberation Serif","titleFont":"Liberation Serif","labelFontSize":26,"titleFontSize":29,"titleFontWeight":"normal"}},
  "color":{"field":"s","type":"nominal","scale":{"domain":["PRN 02","PRN 12","PRN 29","PRN 31","PRN 02 with smoothing","PRN 12 with smoothing","PRN 29 with smoothing","PRN 31 with smoothing"],"range":["#0a62c4","#d7081e","#ec7d2f","#ffc20e","#0063c0","#c50b21","#e8772a","#fdbd00"]},"legend":{"title":null}},
  "strokeWidth":{"field":"s","type":"nominal","scale":{"type":"ordinal","domain":["PRN 02","PRN 12","PRN 29","PRN 31","PRN 02 with smoothing","PRN 12 with smoothing","PRN 29 with smoothing","PRN 31 with smoothing"],"range":[1.1,1.1,1.1,1.1,5,5,5,5]},"legend":{"title":null}}}},
{"transform":[{"filter":"indexof(datum.s,'smoothing')>=0"}],
 "mark":{"type":"line","clip":true},
 "encoding":{
  "x":{"field":"t","type":"quantitative","scale":{"domain":[0,800],"nice":false,"zero":false},"axis":{"orient":"top","title":null,"labels":false,"values":[0,100,200,300,400,500,600,700,800],"grid":false,"tickSize":-7,"domain":false}},
  "y":{"field":"v","type":"quantitative","scale":{"domain":[-35,10],"nice":false,"zero":false},"axis":{"orient":"right","title":null,"labels":false,"values":[-35,-30,-25,-20,-15,-10,-5,0,5,10],"grid":false,"tickSize":-7,"domain":false}},
  "color":{"field":"s","type":"nominal","scale":{"domain":["PRN 02","PRN 12","PRN 29","PRN 31","PRN 02 with smoothing","PRN 12 with smoothing","PRN 29 with smoothing","PRN 31 with smoothing"],"range":["#0a62c4","#d7081e","#ec7d2f","#ffc20e","#0063c0","#c50b21","#e8772a","#fdbd00"]},"legend":{"title":null}},
  "strokeWidth":{"field":"s","type":"nominal","scale":{"type":"ordinal","domain":["PRN 02","PRN 12","PRN 29","PRN 31","PRN 02 with smoothing","PRN 12 with smoothing","PRN 29 with smoothing","PRN 31 with smoothing"],"range":[1.1,1.1,1.1,1.1,5,5,5,5]},"legend":{"title":null}}}},
{"data":{"values":[{"t":152,"v":-31.4,"label":"Severe code multipath"}]},
 "mark":{"type":"text","font":"Liberation Serif","fontSize":23,"color":"black","align":"center","baseline":"middle"},
 "encoding":{"x":{"field":"t","type":"quantitative","scale":{"domain":[0,800],"nice":false,"zero":false},"axis":null},"y":{"field":"v","type":"quantitative","scale":{"domain":[-35,10],"nice":false,"zero":false},"axis":null},"text":{"field":"label"}}}
]
}
